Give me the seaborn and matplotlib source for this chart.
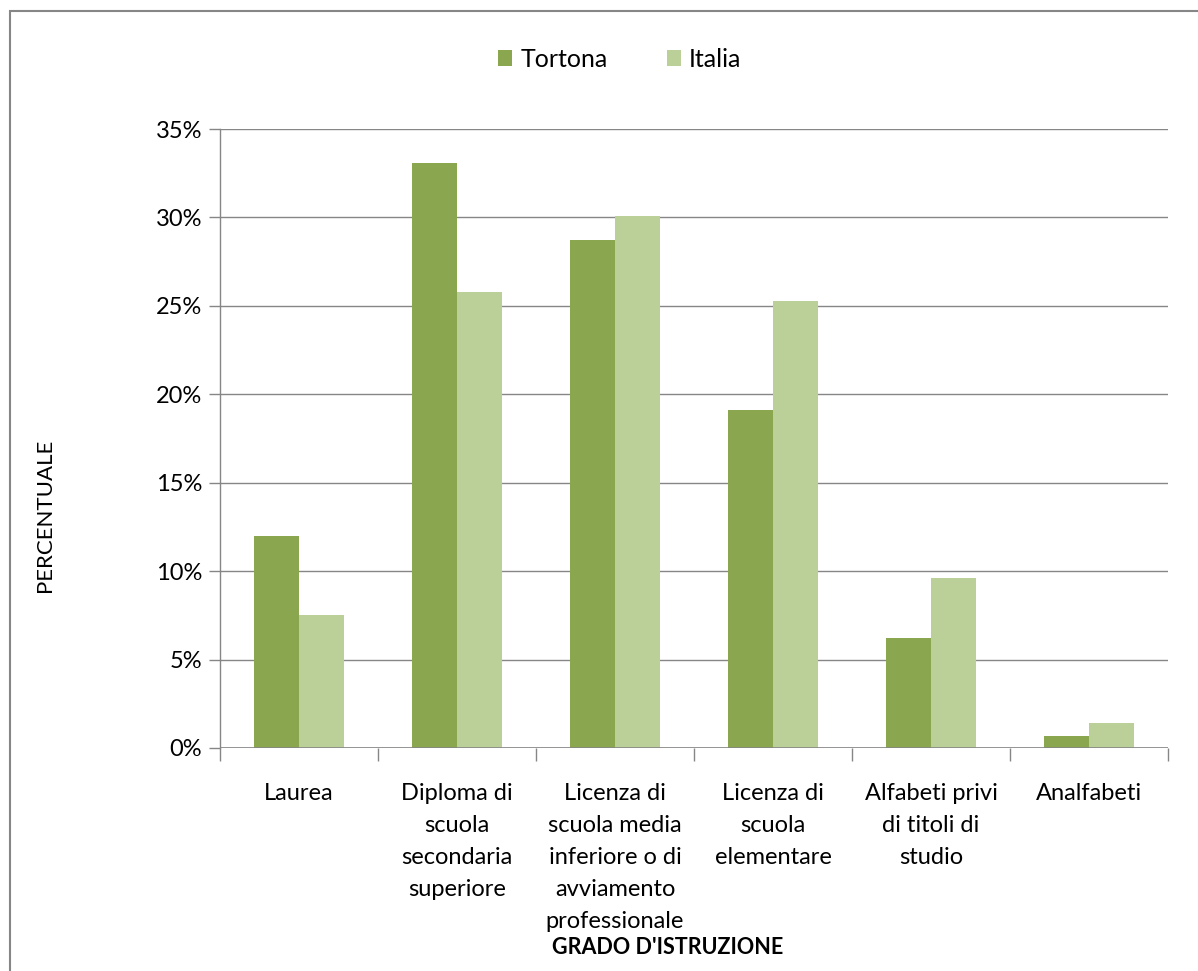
import matplotlib
matplotlib.use("Agg")
import matplotlib.pyplot as plt
import seaborn as sns
import pandas as pd
from matplotlib.patches import Rectangle
from matplotlib.ticker import FuncFormatter, FixedLocator

categories = [
    "Laurea",
    "Diploma di\nscuola\nsecondaria\nsuperiore",
    "Licenza di\nscuola media\ninferiore o di\navviamento\nprofessionale",
    "Licenza di\nscuola\nelementare",
    "Alfabeti privi\ndi titoli di\nstudio",
    "Analfabeti",
]
series_names = ["Tortona", "Italia"]
tortona = [12.0, 33.1, 28.7, 19.1, 6.2, 0.7]
italia = [7.5, 25.8, 30.1, 25.3, 9.6, 1.4]
colors = ["#8AA64F", "#BAD098"]

df = pd.DataFrame({
    "cat": categories * 2,
    "serie": [series_names[0]] * 6 + [series_names[1]] * 6,
    "val": tortona + italia,
})

sns.set_theme(style="white")
plt.rcParams["font.family"] = ["Lato", "DejaVu Sans"]

fig = plt.figure(figsize=(11.98, 9.71), dpi=100)
ax = fig.add_axes([220/1198, 1-748/971, (1168-220)/1198, (748-129)/971])

sns.barplot(data=df, x="cat", y="val", hue="serie", palette=colors,
            width=0.57, saturation=1, ax=ax, legend=True, linewidth=0)

ax.set_ylim(0, 35)
ax.set_xlim(-0.5, 5.5)
ax.yaxis.set_major_locator(FixedLocator([0, 5, 10, 15, 20, 25, 30, 35]))
ax.yaxis.set_major_formatter(FuncFormatter(lambda v, p: f"{int(v)}%"))
ax.grid(axis="y", color="#868686", linewidth=1)
ax.set_axisbelow(True)
for s in ["top", "right", "bottom"]:
    ax.spines[s].set_visible(False)
ax.spines["left"].set_color("#868686")
ax.spines["left"].set_linewidth(1)
ax.axhline(0, color="#868686", linewidth=1.2, zorder=5)

ax.tick_params(axis="y", which="major", length=8, width=1, color="#868686",
               labelsize=17, pad=5, left=True, direction="out")
ax.tick_params(axis="x", which="major", length=0, labelsize=17, pad=25)
ax.set_xticks(range(6))
ax.set_xticklabels(categories, linespacing=1.65, color="black")
ax.set_xticks([i - 0.5 for i in range(7)], minor=True)
ax.tick_params(axis="x", which="minor", length=9, width=1, color="#868686",
               bottom=True, direction="out")
for t in ax.get_yticklabels():
    t.set_color("black")

ax.set_xlabel("")
ax.set_ylabel("")

leg = ax.legend(loc="center", bbox_to_anchor=(0.422, 1.112), ncol=2,
                frameon=False, fontsize=18, handlelength=0.55, handleheight=0.6,
                handletextpad=0.32, columnspacing=2.4)
for t in leg.get_texts():
    t.set_color("black")

fig.text(45/1198, 1-515/971, "PERCENTUALE", rotation=90, ha="center",
         va="center", fontsize=16, color="black")
fig.text(668/1198, 1-947/971, "GRADO D'ISTRUZIONE", ha="center",
         va="center", fontsize=15.5, fontweight="bold", color="black")

fig.patches.append(Rectangle((10/1198, -0.05), 1.2, 1-11/971 + 0.05,
                             transform=fig.transFigure, fill=False,
                             edgecolor="#868686", linewidth=1.5))

fig.savefig("out.png", dpi=100)
